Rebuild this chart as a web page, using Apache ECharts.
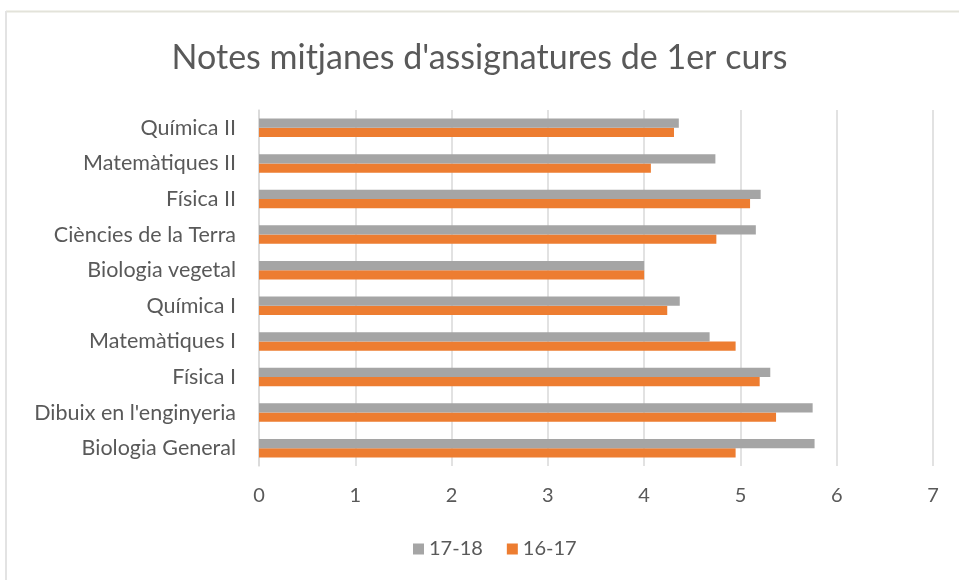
<!DOCTYPE html>
<html>
<head>
<meta charset="utf-8">
<script src="https://cdn.jsdelivr.net/npm/echarts@6/dist/echarts.min.js"></script>
<style>
  html, body { margin: 0; padding: 0; background: #fff; }
  #chart { width: 959px; height: 580px; }
</style>
</head>
<body>
<div id="chart"></div>
<script>
// categories bottom -> top (category axis on y starts at bottom)
const categories = [
  "Biologia General", "Dibuix en l'enginyeria", "Física I", "Matemàtiques I", "Química I",
  "Biologia vegetal", "Ciències de la Terra", "Física II", "Matemàtiques II", "Química II"
];
const serie1718 = [5.77, 5.75, 5.31, 4.68, 4.37, 4.00, 5.16, 5.21, 4.74, 4.36];
const serie1617 = [4.95, 5.37, 5.20, 4.95, 4.24, 4.00, 4.75, 5.10, 4.07, 4.31];
const seriesNames = ["17-18", "16-17"];

const font = "Lato, 'Open Sans', sans-serif";
const chart = echarts.init(document.getElementById("chart"));

const option = {
  backgroundColor: "#fff",
  animation: false,
  title: {
    text: "Notes mitjanes d'assignatures de 1er curs",
    left: "center",
    top: 36,
    textStyle: { fontFamily: font, fontSize: 34, fontWeight: "normal", color: "#595959" }
  },
  legend: {
    bottom: 16,
    left: 408,
    itemWidth: 11,
    itemHeight: 11,
    itemGap: 24,
    icon: "rect",
    textStyle: { fontFamily: font, fontSize: 20, color: "#595959" },
    data: seriesNames
  },
  grid: { left: 259, right: 26, top: 110, bottom: 114, containLabel: false },
  xAxis: {
    type: "value",
    min: 0,
    max: 7,
    interval: 1,
    axisLine: { show: false },
    axisTick: { show: false },
    splitLine: { show: true, lineStyle: { color: "#d9d9d9", width: 1.5 } },
    axisLabel: { fontFamily: font, fontSize: 20, color: "#595959", margin: 20 }
  },
  yAxis: {
    type: "category",
    data: categories,
    axisLine: { show: true, lineStyle: { color: "#d9d9d9", width: 1.5 } },
    axisTick: { show: false },
    axisLabel: { fontFamily: font, fontSize: 21.5, color: "#595959", margin: 23 }
  },
  series: [
    {
      name: seriesNames[0],
      type: "bar",
      data: serie1718,
      itemStyle: { color: "#A5A5A5" },
      barGap: "0%",
      barCategoryGap: "48%",
      z: 3
    },
    {
      name: seriesNames[1],
      type: "bar",
      data: serie1617,
      itemStyle: { color: "#ED7D31" },
      barGap: "0%",
      barCategoryGap: "48%"
    }
  ],
  graphic: [
    { type: "line", shape: { x1: 6, y1: 11.5, x2: 959, y2: 11.5 }, style: { stroke: "#e3e3da", lineWidth: 2 } },
    { type: "line", shape: { x1: 6, y1: 11, x2: 6, y2: 580 }, style: { stroke: "#e3e3e3", lineWidth: 2 } }
  ]
};
chart.setOption(option);
</script>
</body>
</html>
